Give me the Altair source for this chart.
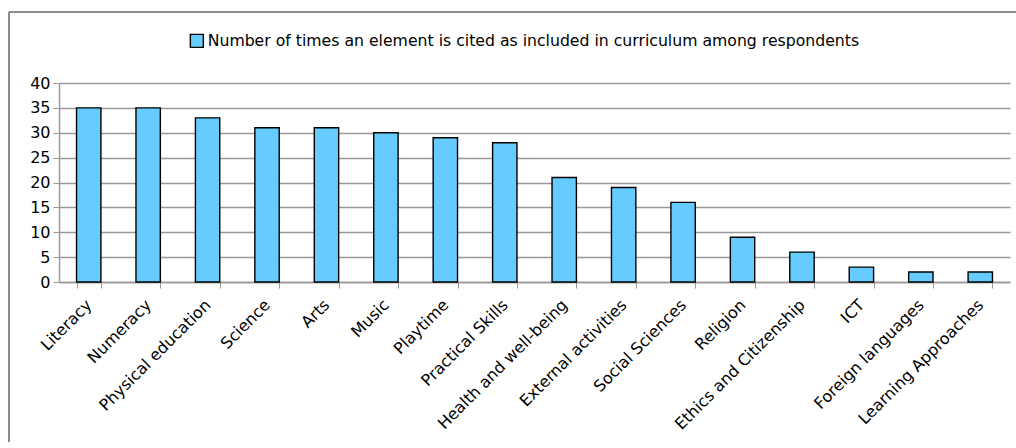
import altair as alt
import pandas as pd

# Curriculum elements and how many respondents cite each one
elements = [
    "Literacy", "Numeracy", "Physical education", "Science", "Arts", "Music",
    "Playtime", "Practical Skills", "Health and well-being", "External activities",
    "Social Sciences", "Religion", "Ethics and Citizenship", "ICT",
    "Foreign languages", "Learning Approaches",
]
counts = [35, 35, 33, 31, 31, 30, 29, 28, 21, 19, 16, 9, 6, 3, 2, 2]
series_name = "Number of times an element is cited as included in curriculum among respondents"

df = pd.DataFrame({"element": elements, "count": counts, "series": series_name})

FONT = "DejaVu Sans"
GRID = "#999999"
FRAME = "#8c8c8c"

bars = alt.Chart(df).mark_bar(stroke="black", strokeWidth=1.4).encode(
    x=alt.X(
        "element:N",
        sort=elements,
        title=None,
        scale=alt.Scale(paddingInner=0.59, paddingOuter=0.295),
        axis=alt.Axis(
            labelAngle=-45,
            labelAlign="right",
            labelBaseline="middle",
            labelFont=FONT,
            labelFontSize=16,
            labelColor="black",
            labelPadding=14,
            tickBand="extent",
            tickSize=6,
            tickColor=GRID,
            domainColor=GRID,
            domainWidth=1.5,
            grid=False,
        ),
    ),
    y=alt.Y(
        "count:Q",
        title=None,
        scale=alt.Scale(domain=[0, 40], nice=False),
        axis=alt.Axis(
            values=list(range(0, 41, 5)),
            labelFont=FONT,
            labelFontSize=16,
            labelColor="black",
            labelPadding=3,
            tickSize=6,
            tickColor=GRID,
            domainColor=GRID,
            domainWidth=1.5,
            gridColor=GRID,
            gridWidth=1.3,
        ),
    ),
    fill=alt.Fill(
        "series:N",
        scale=alt.Scale(range=["#66CCFF"]),
        legend=alt.Legend(
            title=None,
            orient="none",
            legendX=130,
            legendY=-50,
            symbolType="square",
            symbolSize=169,
            symbolStrokeColor="black",
            symbolStrokeWidth=1.4,
            symbolOpacity=1,
            labelFont=FONT,
            labelFontSize=15.7,
            labelColor="black",
            labelOffset=3,
            labelLimit=900,
        ),
    ),
)

# Gray frame edges (top and left) around the chart
frame_top = alt.Chart(df).mark_rule(color=FRAME, strokeWidth=1.5, clip=False).encode(
    x=alt.value(-50), x2=alt.value(957), y=alt.value(-71)
)
frame_left = alt.Chart(df).mark_rule(color=FRAME, strokeWidth=1.5, clip=False).encode(
    x=alt.value(-50), y=alt.value(-71), y2=alt.value(361)
)

chart = alt.layer(frame_top, frame_left, bars).properties(
    width=951,
    height=199,
    autosize=alt.AutoSizeParams(type="none"),
    padding={"left": 59, "top": 83, "right": 6, "bottom": 160},
    background="white",
).configure_view(stroke=None)

chart.save("out.html", embed_options={"renderer": "svg", "actions": False})
